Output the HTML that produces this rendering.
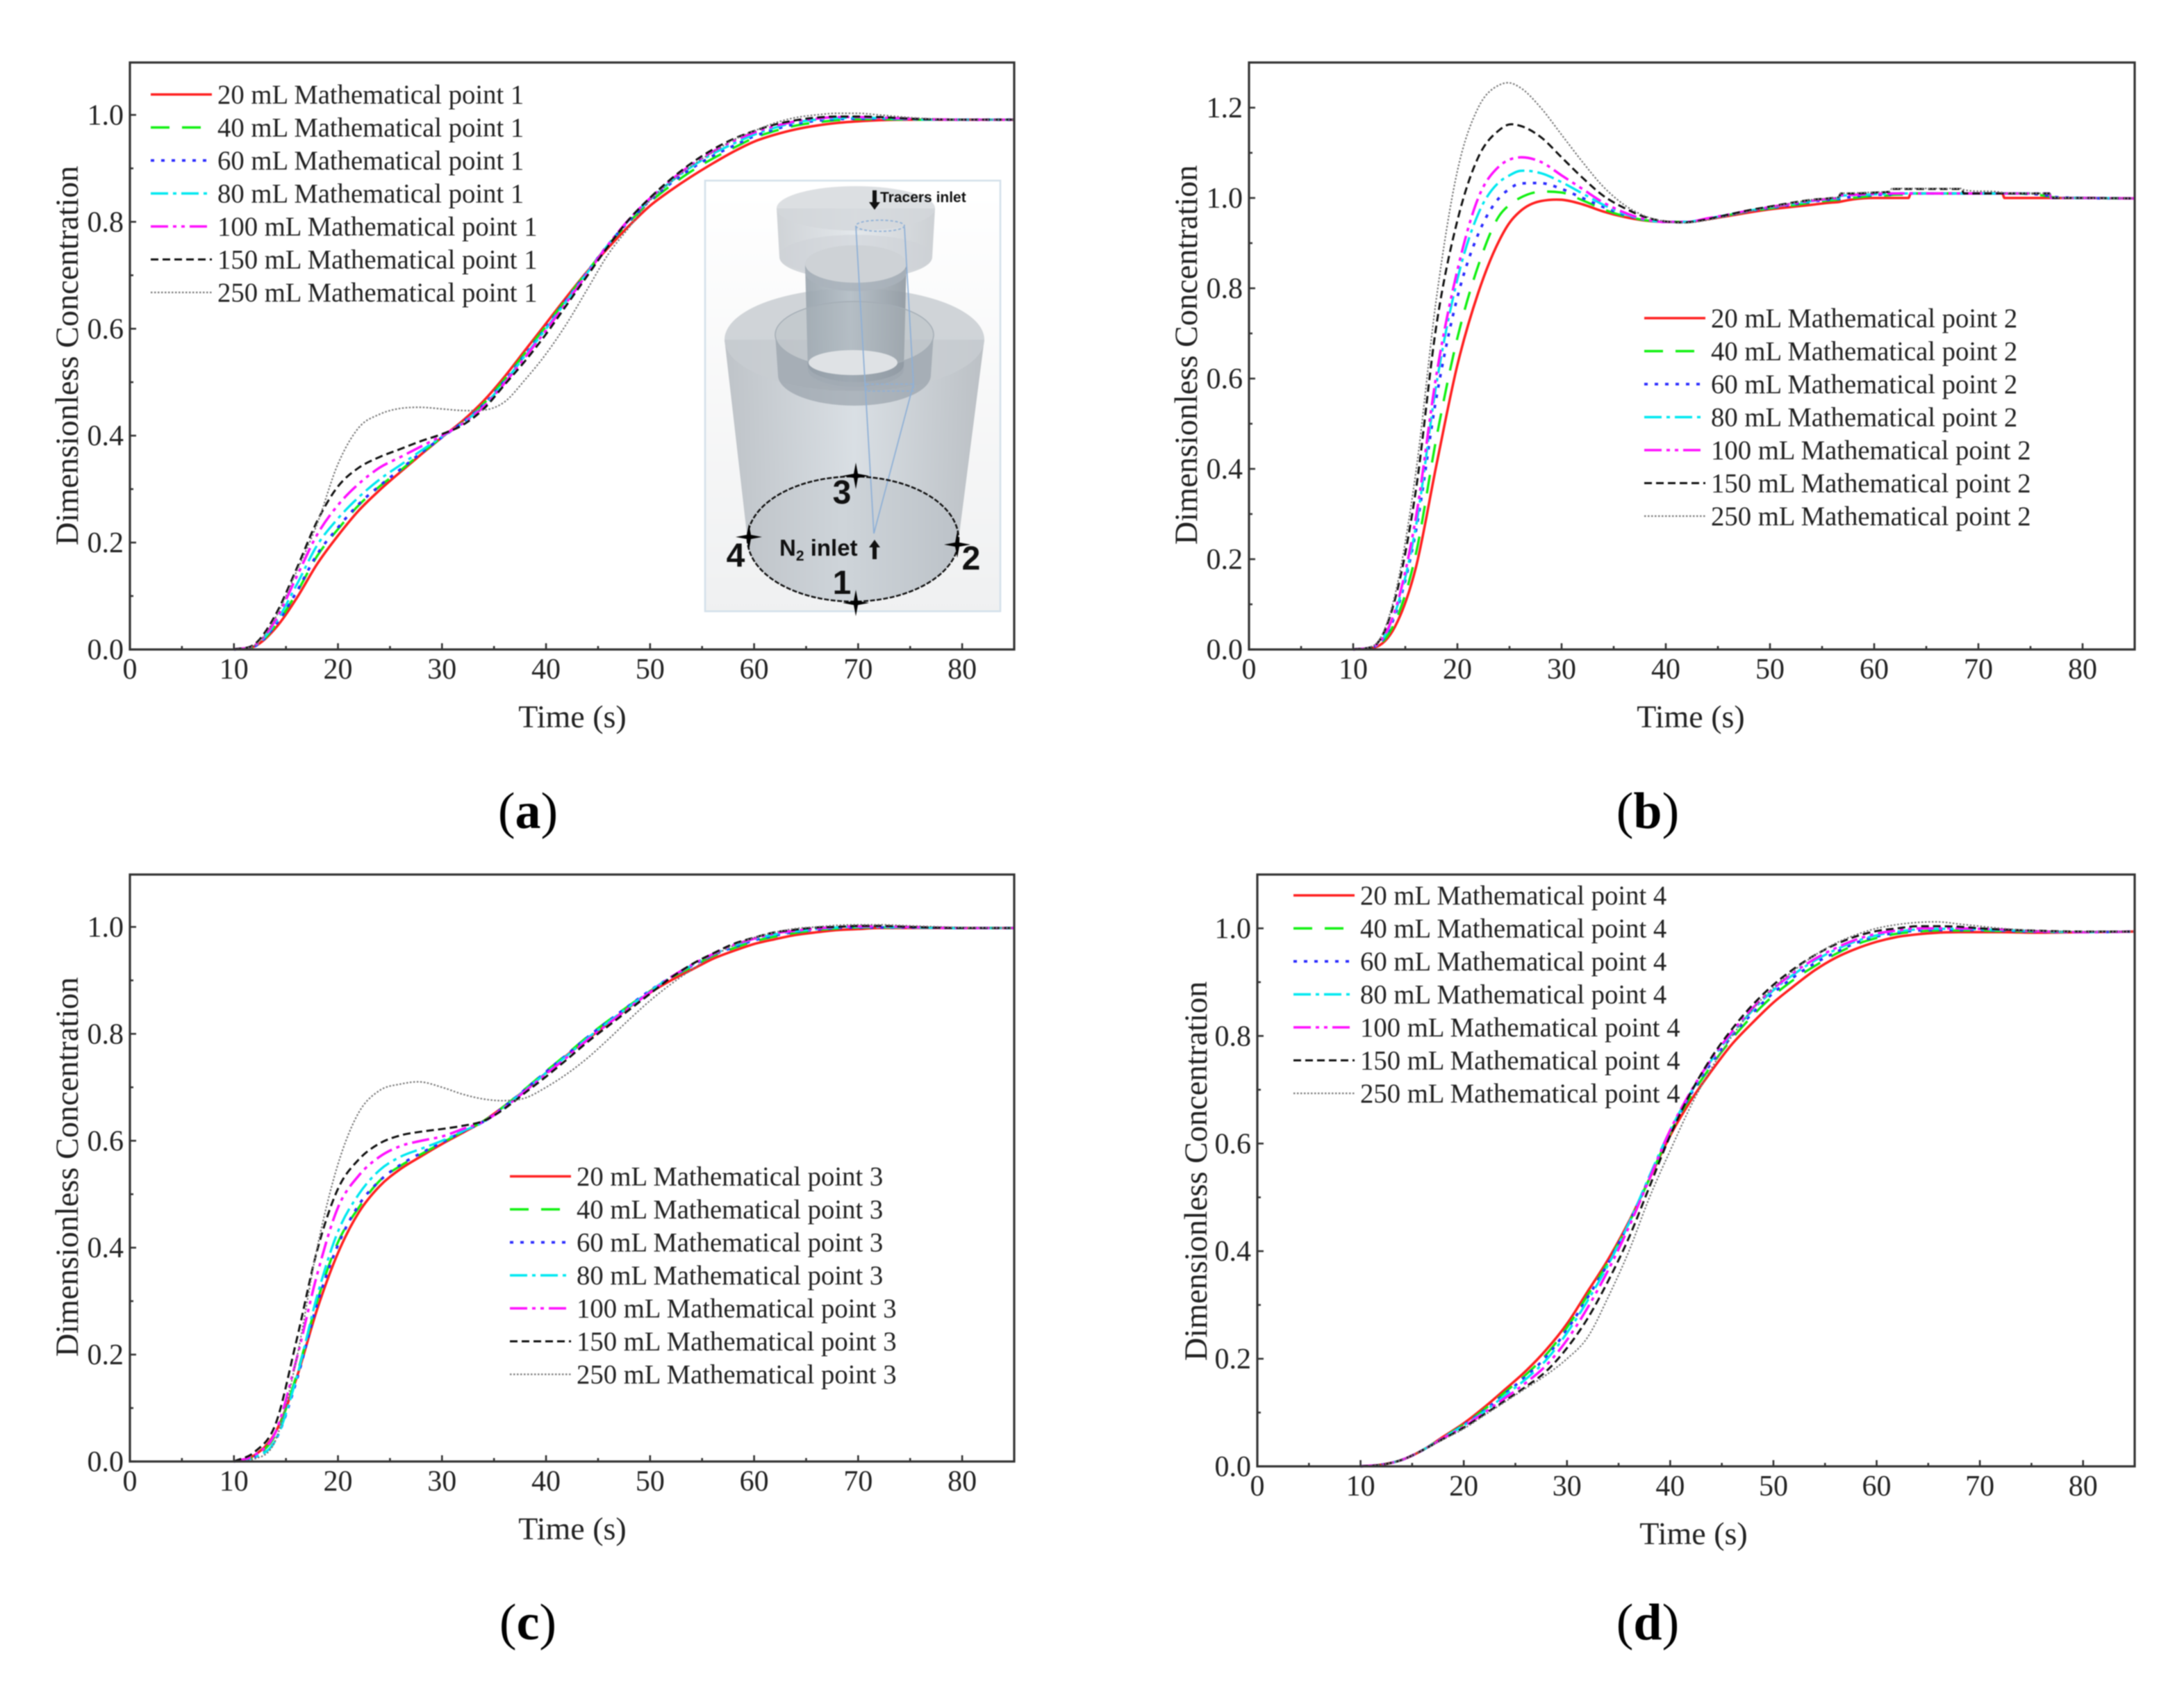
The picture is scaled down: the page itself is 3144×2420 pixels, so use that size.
<!DOCTYPE html>
<html lang="en">
<head>
<meta charset="utf-8">
<title>Dimensionless concentration curves at four mathematical points</title>
<style>
html,body{margin:0;padding:0;background:#fff;}
#figure{display:block;width:3144px;height:2420px;filter:blur(0.7px);font-family:"Liberation Serif",serif;fill:#222;}
.sans{font-family:"Liberation Sans",sans-serif;font-weight:bold;fill:#111;}
</style>
</head>
<body>
<svg id="figure" width="3144" height="2420" viewBox="0 0 3144 2420">
  <defs>
    <linearGradient id="metal" x1="0" x2="1" y1="0" y2="0">
      <stop offset="0" stop-color="#b0b6bc"/><stop offset="0.5" stop-color="#d2d9df"/><stop offset="1" stop-color="#acb2b8"/>
    </linearGradient>
    <linearGradient id="metal-dark" x1="0" x2="1" y1="0" y2="0">
      <stop offset="0" stop-color="#98a3ac"/><stop offset="0.45" stop-color="#b5bfc7"/><stop offset="1" stop-color="#8f98a0"/>
    </linearGradient>
    <linearGradient id="base-fill" x1="0" x2="1" y1="0" y2="0">
      <stop offset="0" stop-color="#c0c5ca"/><stop offset="0.45" stop-color="#ced4d9"/><stop offset="1" stop-color="#bcc2c8"/>
    </linearGradient>
    <linearGradient id="inset-bg" x1="0" x2="0" y1="0" y2="1">
      <stop offset="0" stop-color="#ffffff"/><stop offset="1" stop-color="#eff0f1"/>
    </linearGradient>
    <path id="star" d="M0,-19 L3,-3 L19,0 L3,3 L0,19 L-3,3 L-19,0 L-3,-3 Z" fill="#000"/>
  </defs>
  <g id="charts"></g>

  <g id="inset">
    <rect x="1015" y="260" width="425" height="620" fill="url(#inset-bg)" stroke="#d3e0ea" stroke-width="2.5"/>
    <g>
      <path d="M1118,300 L1122,370 A110,32 0 0 0 1342,370 L1346,300 Z" fill="url(#metal)" opacity="0.6"/>
      <ellipse cx="1232" cy="300" rx="114" ry="32" fill="#d3d7db" opacity="0.8"/>
      <ellipse cx="1232" cy="368" rx="110" ry="30" fill="#cdd2d7" opacity="0.55"/>
    </g>
    <g>
      <path d="M1043,489 L1076,776 A152,90 0 0 0 1380,776 L1417,489 Z" fill="url(#metal)" opacity="0.8"/>
      <ellipse cx="1230" cy="489" rx="187" ry="74" fill="#c8cdd1" opacity="0.85"/>
      <ellipse cx="1228" cy="776" rx="152" ry="90" fill="url(#base-fill)"/>
    </g>
    <g>
      <path d="M1159,380 L1163,532 A69,25 0 0 0 1301,532 L1305,380 Z" fill="url(#metal-dark)" opacity="0.9"/>
      <ellipse cx="1232" cy="392" rx="73" ry="27" fill="#aab3bb" opacity="0.8"/>
      <ellipse cx="1232" cy="380" rx="73" ry="27" fill="#ced2d6"/>
    </g>
    <g>
      <path d="M1116,482 L1120,540 A110,44 0 0 0 1340,540 L1344,482 A114,48 0 0 1 1116,482 Z" fill="#8f9aa4" opacity="0.6"/>
      <path d="M1116,482 A114,48 0 0 1 1344,482 A114,48 0 0 1 1116,482 Z" fill="#aeb6bd" opacity="0.35"/>
      <ellipse cx="1230" cy="482" rx="114" ry="48" fill="none" stroke="#a4adb5" stroke-width="1.5"/>
      <ellipse cx="1228" cy="522" rx="64" ry="18" fill="#dfe2e5"/>
      <path d="M1163,525 A69,25 0 0 0 1301,525 L1301,536 A69,25 0 0 1 1163,536 Z" fill="#a5aeb6" opacity="0.7"/>
    </g>
    <g fill="none" stroke="#8fb0d6" stroke-width="1.8">
      <path d="M1232,325 L1258,768 L1315,553 L1302,327"/>
      <ellipse cx="1267" cy="325" rx="35" ry="8" stroke-dasharray="4 3"/>
      <rect x="1247" y="553" width="68" height="10" stroke-dasharray="4 3"/>
    </g>
    <ellipse cx="1228" cy="776" rx="152" ry="90" fill="none" stroke="#111" stroke-width="2.5" stroke-dasharray="7 2.5"/>
    <use href="#star" x="1232" y="685"/>
    <use href="#star" x="1078" y="773"/>
    <use href="#star" x="1378" y="784"/>
    <use href="#star" x="1232" y="868"/>
    <text class="sans" x="1267" y="291" font-size="21">Tracers inlet</text>
    <path d="M1256,274 h6 v17 h5 l-8,11 l-8,-11 h5 Z" fill="#111"/>
    <text class="sans" x="1122" y="800" font-size="33">N<tspan font-size="21" dy="7">2</tspan><tspan dy="-7"> inlet</tspan></text>
    <path d="M1259,777 l8,11 h-5 v17 h-6 v-17 h-5 Z" fill="#111"/>
    <text class="sans" x="1212" y="725" font-size="48" text-anchor="middle">3</text>
    <text class="sans" x="1398" y="820" font-size="48" text-anchor="middle">2</text>
    <text class="sans" x="1059" y="816" font-size="48" text-anchor="middle">4</text>
    <text class="sans" x="1212" y="855" font-size="48" text-anchor="middle">1</text>
  </g>

  <text x="760" y="1192" font-size="74" text-anchor="middle" fill="#000">(<tspan font-weight="bold">a</tspan>)</text>
  <text x="2372" y="1192" font-size="74" text-anchor="middle" fill="#000">(<tspan font-weight="bold">b</tspan>)</text>
  <text x="760" y="2360" font-size="74" text-anchor="middle" fill="#000">(<tspan font-weight="bold">c</tspan>)</text>
  <text x="2372" y="2360" font-size="74" text-anchor="middle" fill="#000">(<tspan font-weight="bold">d</tspan>)</text>
</svg>

<script>
// Time grids (s)
const timesCommon = [10,12,14,16,18,20,22,24,26,28,30,32,34,36,38,40,42,44,46,48,50,52,54,56,58,60,62,64,66,68,70,72,75,80,85];
const timesB = [10,12,14,16,18,20,22,24,25,26,28,30,32,34,36,38,40,42,44,46,48,50,52,54,56,56.6,56.8,58,60,61.5,61.7,63.3,63.5,66,68.4,68.6,72.3,72.5,76.8,77,80,85];

// Tick labels
const xTickLabels = ["0","10","20","30","40","50","60","70","80"];
const yTickLabels11 = ["0.0","0.2","0.4","0.6","0.8","1.0"];
const yTickLabels13 = ["0.0","0.2","0.4","0.6","0.8","1.0","1.2"];

// Legend labels
const legendA = ["20 mL Mathematical point 1","40 mL Mathematical point 1","60 mL Mathematical point 1","80 mL Mathematical point 1","100 mL Mathematical point 1","150 mL Mathematical point 1","250 mL Mathematical point 1"];
const legendB = ["20 mL Mathematical point 2","40 mL Mathematical point 2","60 mL Mathematical point 2","80 mL Mathematical point 2","100 mL Mathematical point 2","150 mL Mathematical point 2","250 mL Mathematical point 2"];
const legendC = ["20 mL Mathematical point 3","40 mL Mathematical point 3","60 mL Mathematical point 3","80 mL Mathematical point 3","100 mL Mathematical point 3","150 mL Mathematical point 3","250 mL Mathematical point 3"];
const legendD = ["20 mL Mathematical point 4","40 mL Mathematical point 4","60 mL Mathematical point 4","80 mL Mathematical point 4","100 mL Mathematical point 4","150 mL Mathematical point 4","250 mL Mathematical point 4"];

// Panel (a) series
const a20  = [0,.006,.04,.095,.16,.213,.26,.298,.332,.365,.397,.428,.465,.51,.56,.61,.66,.708,.752,.793,.83,.859,.885,.909,.931,.95,.963,.973,.98,.985,.988,.99,.991,.991,.991];
const a40  = [0,.006,.045,.105,.175,.225,.27,.305,.335,.367,.397,.425,.46,.505,.555,.605,.657,.708,.757,.8,.837,.868,.895,.918,.938,.957,.97,.98,.986,.99,.992,.992,.991,.991,.991];
const a60  = [0,.006,.046,.107,.178,.228,.272,.306,.337,.368,.397,.425,.458,.502,.552,.602,.655,.707,.758,.802,.84,.872,.9,.923,.942,.96,.973,.983,.989,.992,.993,.993,.992,.991,.991];
const a80  = [0,.007,.05,.12,.195,.245,.285,.318,.345,.372,.398,.424,.456,.5,.55,.6,.653,.706,.758,.804,.842,.875,.903,.927,.946,.963,.976,.986,.991,.994,.995,.994,.992,.991,.991];
const a100 = [0,.008,.055,.135,.215,.27,.31,.34,.36,.38,.4,.423,.454,.498,.547,.597,.65,.704,.758,.805,.844,.878,.907,.931,.951,.967,.979,.988,.993,.996,.996,.995,.993,.991,.991];
const a150 = [0,.01,.065,.15,.24,.305,.34,.36,.375,.39,.403,.42,.45,.495,.54,.59,.645,.7,.755,.805,.845,.88,.91,.935,.955,.97,.982,.99,.995,.997,.997,.996,.993,.991,.991];
const a250 = [0,.008,.06,.145,.235,.347,.415,.44,.451,.453,.45,.447,.448,.463,.505,.553,.61,.675,.74,.79,.84,.875,.905,.93,.953,.97,.985,.995,1.0,1.003,1.003,1.0,.995,.991,.991];

// Panel (b) series
const b20  = [0,.004,.05,.18,.41,.63,.79,.905,.945,.97,.993,.996,.986,.97,.958,.95,.947,.947,.953,.96,.968,.975,.98,.985,.99,.991,.992,.997,1.0,1.0,1.0,1.0,1.01,1.01,1.01,1.01,1.01,1.0,1.0,1.0,1.0,.999];
const b40  = [0,.005,.06,.21,.47,.69,.85,.96,.985,1.0,1.014,1.012,.995,.975,.96,.951,.947,.947,.954,.962,.97,.977,.983,.99,.995,.996,.997,1.0,1.005,1.006,1.007,1.008,1.01,1.01,1.01,1.01,1.01,1.01,1.003,1.002,1.0,.999];
const b60  = [0,.006,.075,.26,.56,.78,.92,1.0,1.02,1.032,1.033,1.02,1.0,.98,.963,.952,.947,.947,.954,.962,.971,.978,.985,.992,.997,.998,.999,1.003,1.007,1.008,1.009,1.01,1.01,1.01,1.01,1.01,1.01,1.01,1.005,1.003,1.0,.999];
const b80  = [0,.006,.08,.27,.59,.82,.965,1.035,1.05,1.06,1.055,1.035,1.01,.985,.965,.952,.947,.947,.954,.963,.972,.979,.986,.993,.998,1.0,1.005,1.006,1.008,1.009,1.01,1.01,1.01,1.01,1.01,1.01,1.01,1.01,1.01,1.0,1.0,.999];
const b100 = [0,.007,.085,.29,.61,.84,1.0,1.07,1.085,1.09,1.08,1.05,1.02,.99,.968,.953,.947,.947,.955,.963,.972,.98,.987,.994,.999,1.0,1.006,1.007,1.009,1.01,1.01,1.01,1.01,1.01,1.01,1.01,1.01,1.01,1.01,1.0,1.0,.999];
const b150 = [0,.008,.11,.35,.72,.95,1.09,1.15,1.163,1.16,1.135,1.09,1.045,1.005,.978,.958,.948,.946,.953,.963,.973,.981,.989,.996,1.0,1.002,1.01,1.01,1.012,1.014,1.02,1.02,1.02,1.02,1.02,1.01,1.01,1.01,1.01,1.0,1.0,.999];
const b250 = [0,.009,.12,.39,.78,1.06,1.2,1.25,1.255,1.245,1.2,1.14,1.08,1.025,.985,.96,.948,.945,.951,.96,.97,.979,.988,.996,1.0,1.002,1.01,1.011,1.013,1.015,1.021,1.021,1.021,1.021,1.021,1.018,1.012,1.011,1.01,1.002,1.0,.999];

// Panel (c) series
const c20  = [0,.012,.055,.155,.285,.39,.466,.515,.547,.571,.594,.615,.637,.665,.695,.727,.76,.79,.82,.85,.877,.9,.92,.94,.955,.968,.977,.985,.99,.994,.996,.998,.998,.998,.998];
const c40  = [0,.01,.05,.16,.30,.41,.475,.525,.553,.575,.596,.617,.637,.665,.697,.73,.762,.795,.825,.853,.88,.905,.925,.945,.96,.973,.982,.989,.994,.997,.999,.999,.999,.998,.998];
const c60  = [0,.008,.04,.15,.295,.405,.48,.525,.555,.577,.597,.617,.636,.664,.696,.729,.761,.794,.824,.853,.881,.906,.927,.947,.962,.975,.984,.991,.995,.998,.999,.999,.999,.998,.998];
const c80  = [0,.008,.04,.155,.31,.43,.50,.545,.57,.585,.60,.618,.635,.663,.695,.727,.759,.792,.822,.851,.88,.906,.928,.948,.964,.977,.986,.992,.996,.999,1.0,1.0,.999,.998,.998];
const c100 = [0,.012,.055,.19,.35,.475,.535,.57,.59,.60,.608,.622,.636,.662,.693,.725,.756,.789,.819,.849,.878,.906,.929,.949,.966,.978,.988,.993,.997,1.0,1.001,1.001,1.0,.998,.998];
const c150 = [0,.018,.07,.225,.395,.51,.565,.595,.61,.617,.622,.628,.637,.66,.69,.72,.752,.785,.815,.845,.875,.905,.93,.95,.968,.98,.99,.995,.999,1.0,1.002,1.002,1.0,.998,.998];
const c250 = [0,.005,.04,.19,.40,.556,.653,.694,.706,.71,.70,.687,.678,.675,.68,.70,.725,.755,.79,.827,.862,.893,.92,.945,.965,.98,.99,.997,1.0,1.003,1.004,1.004,1.002,.999,.998];

// Panel (d) series
const d20  = [0,.003,.012,.03,.055,.08,.11,.143,.177,.217,.265,.325,.385,.455,.535,.615,.68,.735,.785,.825,.862,.893,.922,.945,.962,.975,.984,.989,.992,.993,.993,.993,.992,.993,.994];
const d40  = [0,.003,.012,.03,.054,.078,.106,.138,.17,.208,.258,.318,.38,.452,.535,.62,.688,.745,.795,.838,.875,.905,.93,.952,.97,.982,.99,.994,.996,.996,.996,.995,.994,.993,.994];
const d60  = [0,.003,.012,.03,.053,.077,.104,.135,.167,.204,.254,.314,.378,.452,.537,.622,.692,.75,.8,.843,.88,.91,.935,.955,.973,.985,.992,.996,.997,.997,.997,.996,.994,.993,.994];
const d80  = [0,.003,.012,.03,.053,.076,.102,.132,.162,.198,.248,.308,.375,.452,.54,.625,.695,.755,.805,.848,.885,.915,.94,.96,.976,.987,.994,.998,.999,.999,.998,.997,.995,.993,.994];
const d100 = [0,.003,.012,.03,.052,.074,.1,.127,.155,.188,.235,.295,.365,.445,.535,.625,.697,.757,.808,.852,.888,.918,.943,.963,.979,.99,.996,1.0,1.0,1.0,.999,.998,.995,.993,.994];
const d150 = [0,.003,.012,.03,.051,.072,.097,.122,.148,.177,.22,.275,.345,.425,.52,.615,.695,.76,.813,.858,.895,.925,.95,.97,.985,.995,1.0,1.004,1.004,1.003,1.0,.998,.996,.994,.994];
const d250 = [0,.003,.012,.03,.05,.07,.095,.12,.145,.17,.2,.24,.315,.40,.50,.587,.67,.74,.8,.85,.89,.922,.95,.972,.988,1.0,1.007,1.011,1.012,1.008,1.004,1.0,.996,.994,.994];

const svg = document.getElementById('figure');
const chartsRoot = document.getElementById('charts');
const NS = svg.namespaceURI;

const seriesStyles = [
  {key:'20mL',  color:'#ff2020', width:3.6, dash:''},
  {key:'40mL',  color:'#10f010', width:3.4, dash:'27 18'},
  {key:'60mL',  color:'#2a2aff', width:3.8, dash:'5 10'},
  {key:'80mL',  color:'#00e8f0', width:3.4, dash:'25 7 5 7'},
  {key:'100mL', color:'#ff10ff', width:3.6, dash:'25 7 5 7 5 7'},
  {key:'150mL', color:'#111111', width:3,   dash:'11 6'},
  {key:'250mL', color:'#777777', width:2.2, dash:'2.5 2.5'}
];

function mk(tag, parent, attrs) {
  const el = document.createElementNS(NS, tag);
  for (const k in attrs) el.setAttribute(k, attrs[k]);
  parent.appendChild(el);
  return el;
}

function smoothPath(px, py) {
  const n = px.length, d = [], m = [];
  for (let i = 0; i < n - 1; i++) d.push((py[i+1]-py[i])/(px[i+1]-px[i]));
  m.push(d[0]);
  for (let i = 1; i < n - 1; i++) {
    const h0 = px[i]-px[i-1], h1 = px[i+1]-px[i];
    const a = d[i-1], b = d[i];
    if (a === 0 || b === 0) { m.push(0); continue; }
    const c = (h1*a + h0*b)/(h0+h1);
    const lim = (a*b > 0 ? 3 : 1) * Math.min(Math.abs(a), Math.abs(b));
    m.push(Math.sign(c) * Math.min(Math.abs(c), lim));
  }
  m.push(d[n-2]);
  let s = 'M' + px[0].toFixed(1) + ',' + py[0].toFixed(1);
  for (let i = 0; i < n - 1; i++) {
    const h = (px[i+1]-px[i])/3;
    s += ' C' + (px[i]+h).toFixed(1) + ',' + (py[i]+m[i]*h).toFixed(1) + ' ' +
         (px[i+1]-h).toFixed(1) + ',' + (py[i+1]-m[i+1]*h).toFixed(1) + ' ' +
         px[i+1].toFixed(1) + ',' + py[i+1].toFixed(1);
  }
  return s;
}

function drawPanel(p) {
  const g = mk('g', chartsRoot, {});
  
  
  const xScale = t => p.x0 + t * (p.x1 - p.x0) / 85;
  const yScale = v => p.y0 - v * (p.y0 - p.yT) / p.yMax;

  // series
  const curves = mk('g', g, {});
  
  
  p.series.forEach((vals, i) => {
    const st = seriesStyles[i];
    const path = mk('path', curves, {
      d: smoothPath(p.times.map(xScale), vals.map(yScale)),
      fill: 'none', stroke: st.color, 'stroke-width': st.width,
      'stroke-dasharray': st.dash || 'none', 'stroke-linejoin': 'round'
    });
    
    
  });

  // frame
  const frame = mk('rect', g, {x:p.x0, y:p.yT, width:p.x1-p.x0, height:p.y0-p.yT, fill:'none', stroke:'#333', 'stroke-width':3.2});
  
  

  // x axis
  const xAxis = mk('g', g, {});
  
  
  for (let t = 0; t <= 85; t += 5) {
    const major = t % 10 === 0;
    mk('line', xAxis, {x1:xScale(t), x2:xScale(t), y1:p.y0, y2:p.y0-(major?9:5), stroke:'#333', 'stroke-width':2.6});
  }
  xTickLabels.forEach(lbl => {
    const tx = mk('text', xAxis, {x:xScale(+lbl), y:p.y0+42, 'font-size':42, 'text-anchor':'middle'});
    tx.textContent = lbl;
    
    
  });
  const xTitle = mk('text', xAxis, {x:p.xTitleX, y:p.y0+112, 'font-size':46, 'text-anchor':'middle'});
  xTitle.textContent = 'Time (s)';
  
  

  // y axis
  const yAxis = mk('g', g, {});
  
  
  for (let k = 0; k * 0.1 <= p.yMax + 1e-6; k++) {
    const major = k % 2 === 0;
    const yy = yScale(k * 0.1);
    mk('line', yAxis, {x1:p.x0, x2:p.x0+(major?9:5), y1:yy, y2:yy, stroke:'#333', 'stroke-width':2.6});
  }
  p.yLabels.forEach(lbl => {
    const ty = mk('text', yAxis, {x:p.x0-9, y:yScale(+lbl)+14, 'font-size':42, 'text-anchor':'end'});
    ty.textContent = lbl;
    
    
  });
  const yTitle = mk('text', yAxis, {transform:'translate(' + p.yTitleX + ',' + p.yTitleY + ') rotate(-90)', 'font-size':46.3, 'text-anchor':'middle'});
  yTitle.textContent = 'Dimensionless Concentration';
  
  

  // legend
  const legend = mk('g', g, {});
  
  
  p.legend.forEach((label, i) => {
    const st = seriesStyles[i];
    const yy = p.legY + i * 47.5;
    const swatch = mk('line', legend, {x1:p.legX, x2:p.legX+88, y1:yy, y2:yy, stroke:st.color, 'stroke-width':st.width, 'stroke-dasharray':st.dash || 'none'});
    
    
    const txt = mk('text', legend, {x:p.legX+96, y:yy+13, 'font-size':38.7});
    txt.textContent = label;
    
    
  });
}

drawPanel({id:'a', x0:187, x1:1460, y0:935, yT:90, yMax:1.098, times:timesCommon,
  series:[a20,a40,a60,a80,a100,a150,a250], yLabels:yTickLabels11, legend:legendA,
  xTitleX:824, yTitleX:112, yTitleY:512, legX:217, legY:136});
drawPanel({id:'b', x0:1798, x1:3073, y0:935, yT:90, yMax:1.3, times:timesB,
  series:[b20,b40,b60,b80,b100,b150,b250], yLabels:yTickLabels13, legend:legendB,
  xTitleX:2434, yTitleX:1723, yTitleY:511, legX:2367, legY:458});
drawPanel({id:'c', x0:187, x1:1460, y0:2104, yT:1259, yMax:1.098, times:timesCommon,
  series:[c20,c40,c60,c80,c100,c150,c250], yLabels:yTickLabels11, legend:legendC,
  xTitleX:824, yTitleX:112, yTitleY:1680, legX:734, legY:1693.5});
drawPanel({id:'d', x0:1810, x1:3073, y0:2111, yT:1259, yMax:1.1, times:timesCommon,
  series:[d20,d40,d60,d80,d100,d150,d250], yLabels:yTickLabels11, legend:legendD,
  xTitleX:2438, yTitleX:1737, yTitleY:1686, legX:1862, legY:1289});
</script>
</body>
</html>
